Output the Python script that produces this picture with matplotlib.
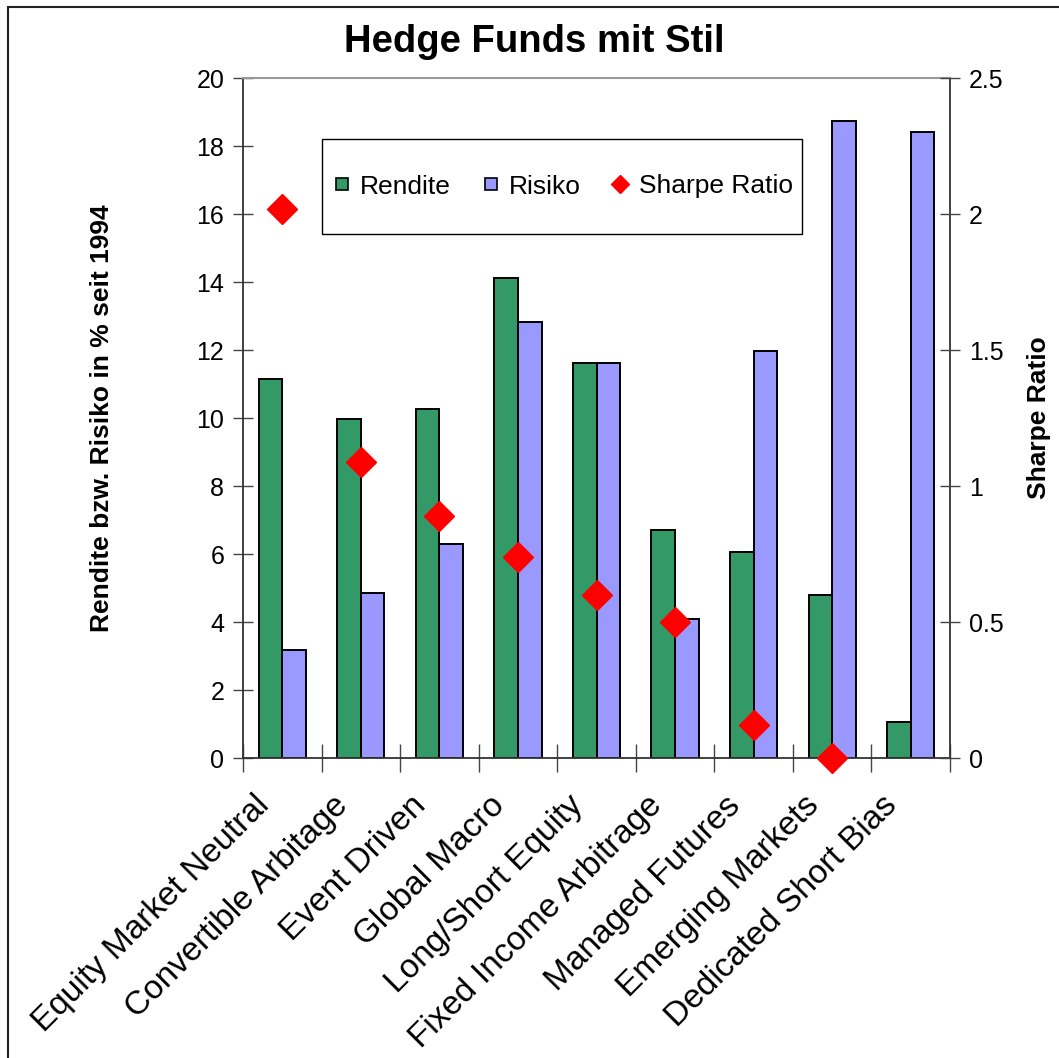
import numpy as np
import matplotlib
matplotlib.use('Agg')
import matplotlib.pyplot as plt
from matplotlib.patches import Rectangle
from matplotlib.lines import Line2D
from matplotlib.transforms import ScaledTranslation

plt.rcParams['font.family'] = ['Liberation Sans', 'DejaVu Sans']

categories = ['Equity Market Neutral', 'Convertible Arbitage', 'Event Driven',
              'Global Macro', 'Long/Short Equity', 'Fixed Income Arbitrage',
              'Managed Futures', 'Emerging Markets', 'Dedicated Short Bias']
rendite = [11.15, 9.97, 10.26, 14.12, 11.62, 6.70, 6.05, 4.79, 1.07]
risiko = [3.18, 4.86, 6.29, 12.82, 11.62, 4.09, 11.97, 18.74, 18.41]
sharpe = [2.02, 1.09, 0.89, 0.74, 0.60, 0.50, 0.12, 0.00, np.nan]

green = '#339966'
blue = '#9999FF'

W, H = 1059, 1058
fig = plt.figure(figsize=(W/100, H/100), dpi=100)
# outer chart frame (only left/top visible in the reference)
fig.patches.append(Rectangle((8/W, -0.1), 1.2, 1 - 7/H + 0.1,
                             transform=fig.transFigure, fill=False,
                             edgecolor='#222222', linewidth=1.5))

ax = fig.add_axes([243/W, 1 - 758/H, (950 - 243)/W, (758 - 78)/H])
x = np.arange(len(categories))
w = 0.3
ax.bar(x - w/2, rendite, w, color=green, edgecolor='black', linewidth=1.4,
       zorder=2)
ax.bar(x + w/2, risiko, w, color=blue, edgecolor='black', linewidth=1.4,
       zorder=2)

ax.set_xlim(-0.5, len(categories) - 0.5)
ax.set_ylim(0, 20)
ax.set_yticks(np.arange(0, 21, 2))
ax.set_xticks(np.arange(-0.5, len(categories) + 0.5, 1))
ax.set_xticklabels([])
ax.set_xticks(x, minor=True)
ax.set_xticklabels(categories, minor=True, rotation=45, ha='right',
                   va='baseline', rotation_mode='anchor', fontsize=24)
ax.tick_params(axis='x', which='minor', length=0, pad=0)
off = ScaledTranslation(-12/100, -49/100, fig.dpi_scale_trans)
for lab in ax.get_xticklabels(minor=True):
    lab.set_transform(lab.get_transform() + off)
ax.tick_params(axis='x', which='major', direction='inout', length=20,
               width=1, color='#444444')
ax.tick_params(axis='y', direction='inout', length=15, width=1,
               labelsize=18, pad=6, color='#444444')
for s in ['left', 'bottom', 'right']:
    ax.spines[s].set_color('#333333')
    ax.spines[s].set_linewidth(1.3)
ax.spines['top'].set_color('#999999')
ax.spines['top'].set_linewidth(1.5)
ax.set_ylabel('Rendite bzw. Risiko in % seit 1994', fontsize=19,
              fontweight='bold', labelpad=59)

ax2 = ax.twinx()
ax2.plot(x, sharpe, linestyle='none', marker='D', markersize=15.3,
         color='red', markeredgecolor='red', clip_on=False, zorder=5)
ax2.set_ylim(0, 2.5)
ax2.set_yticks(np.arange(0, 2.51, 0.5))
ax2.set_yticklabels(['0', '0.5', '1', '1.5', '2', '2.5'])
ax2.tick_params(axis='y', direction='inout', length=15, width=1,
                labelsize=18, pad=6, color='#444444')
for s in ax2.spines.values():
    s.set_visible(False)
ax2.set_ylabel('Sharpe Ratio', fontsize=19, fontweight='bold', labelpad=17)

# legend box drawn by hand, entries centred inside it
box = (322, 139, 802, 234)
fig.patches.append(Rectangle((box[0]/W, 1 - box[3]/H), (box[2] - box[0])/W,
                             (box[3] - box[1])/H, transform=fig.transFigure,
                             facecolor='white', edgecolor='black',
                             linewidth=1, zorder=3))
handles = [
    Line2D([], [], linestyle='none', marker='s', markersize=8,
           markerfacecolor=green, markeredgecolor='black', markeredgewidth=1.2),
    Line2D([], [], linestyle='none', marker='s', markersize=8,
           markerfacecolor=blue, markeredgecolor='black', markeredgewidth=1.2),
    Line2D([], [], linestyle='none', marker='D', markersize=9,
           color='red'),
]
leg = fig.legend(handles, ['Rendite', 'Risiko', 'Sharpe Ratio'],
                 loc='center', borderaxespad=0,
                 bbox_to_anchor=((box[0] + box[2])/2/W,
                                 1 - (box[1] + box[3])/2/H),
                 ncol=3, fontsize=19, frameon=False,
                 handlelength=0.8, handletextpad=0.3,
                 columnspacing=1.1, borderpad=0)
leg.set_zorder(4)

fig.text(0.505, 1 - 42/H, 'Hedge Funds mit Stil', ha='center', va='center',
         fontsize=27.5, fontweight='bold')

fig.savefig('out.png', dpi=100)
